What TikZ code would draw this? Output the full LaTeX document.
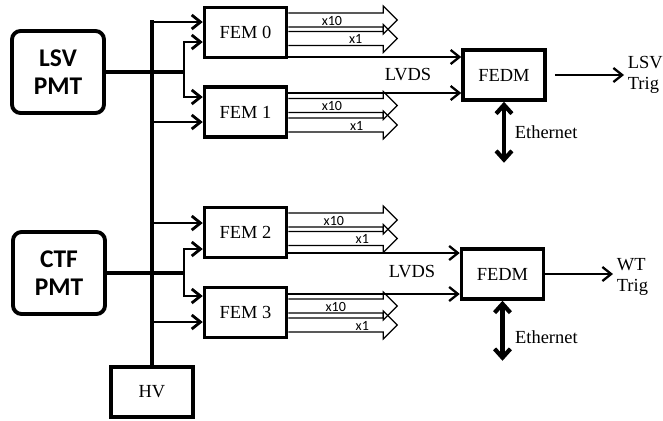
\documentclass[tikz,border=0pt]{standalone}
\usepackage{fontspec}
\setmainfont{Liberation Serif}
\newfontfamily\pmtfont{Carlito}
\usetikzlibrary{positioning, arrows.meta, calc}

% two gain outputs leave each FEM as wide open arrows
\newcommand{\gainarrow}[4]{%
  \draw[fat] ($(#1.east)+(0,#2)$) ++(0,-7) -- ++(95,0) -- ++(0,-7) -- ++(14,14)
    -- ++(-14,14) -- ++(0,-7) -- ++(-95,0) node[gain, pos=#4] {#3};
}

\begin{document}
\begin{tikzpicture}[
      x=0.02cm, y=-0.02cm,
      block/.style={rectangle, draw, line width=2pt, minimum width=1.64cm,
                    minimum height=1cm, align=center,
                    font=\fontsize{10.5}{12}\selectfont},
      pmt/.style={rectangle, draw, line width=2.2pt, rounded corners=0.17cm,
                  minimum width=1.84cm, minimum height=1.64cm, align=center,
                  font=\pmtfont\bfseries\fontsize{14.5}{16}\selectfont},
      txt/.style={align=left, inner sep=2pt, font=\fontsize{10.5}{12}\selectfont},
      gain/.style={anchor=base, inner sep=0pt, yshift=1pt,
                   font=\pmtfont\fontsize{8}{8}\selectfont},
      bus/.style={line width=2.3pt},
      arrow/.style={-{Straight Barb[length=5pt, width=8pt]}, line width=1.6pt},
      ether/.style={{Straight Barb[length=5pt, width=9pt]}-{Straight Barb[length=5pt, width=9pt]},
                    line width=2.4pt},
      fat/.style={line width=0.7pt, line join=miter},
    ]
    \useasboundingbox (0,0) rectangle (663,420);

    % sources
    \node[pmt] (lsv) at (58,72) {LSV\\PMT};
    \node[pmt] (ctf) at (59,273) {CTF\\PMT};
    \node[block] (hv) at (152,392) {HV};

    % front-end modules
    \node[block] (fem0) at (245.5,32.5) {FEM 0};
    \node[block] (fem1) at (245.5,112) {FEM 1};
    \node[block] (fem2) at (245.5,232.5) {FEM 2};
    \node[block] (fem3) at (245.5,312.5) {FEM 3};

    \node[block] (fedmA) at (504,75) {FEDM};
    \node[block] (fedmB) at (502.5,274) {FEDM};

    \node[txt] (lvdsA) at (408,75) {LVDS};
    \node[txt] (lvdsB) at (412,272) {LVDS};
    \node[txt, anchor=west] (trigA) at (624,75) {LSV\\Trig};
    \node[txt, anchor=west] (trigB) at (613,277) {WT\\Trig};

    % HV bus
    \draw[bus] (hv.north) -- ++(0,-345);
    \draw[arrow] (hv.north) |- ($(fem0.west)+(0,-10.5)$);
    \draw[arrow] (hv.north) |- ($(fem1.west)+(0,10)$);
    \draw[arrow] (hv.north) |- ($(fem2.west)+(0,-9.5)$);
    \draw[arrow] (hv.north) |- ($(fem3.west)+(0,9.5)$);

    % PMT signals split to two FEMs
    \draw[bus] (lsv.east) -- ++(78,0) coordinate (splitA);
    \draw[arrow] (splitA) |- ($(fem0.west)+(0,9.5)$);
    \draw[arrow] (splitA) |- ($(fem1.west)+(0,-15)$);
    \draw[bus] (ctf.east) -- ++(77,0) coordinate (splitB);
    \draw[arrow] (splitB) |- ($(fem2.west)+(0,16.5)$);
    \draw[arrow] (splitB) |- ($(fem3.west)+(0,-16.5)$);

    % gain outputs
    \gainarrow{fem0}{-12.5}{x10}{0.54}
    \gainarrow{fem0}{6}{x1}{0.29}
    \gainarrow{fem1}{-6.5}{x10}{0.54}
    \gainarrow{fem1}{13}{x1}{0.28}
    \gainarrow{fem2}{-12.5}{x10}{0.52}
    \gainarrow{fem2}{6}{x1}{0.22}
    \gainarrow{fem3}{-6.5}{x10}{0.50}
    \gainarrow{fem3}{12.5}{x1}{0.22}

    % LVDS links
    \coordinate (lvA0) at ($(fedmA.west)+(0,-18)$);
    \coordinate (lvA1) at ($(fedmA.west)+(0,18)$);
    \coordinate (lvB0) at ($(fedmB.west)+(0,-21)$);
    \coordinate (lvB1) at ($(fedmB.west)+(0,20)$);
    \draw[arrow, line width=1.3pt] (fem0.east |- lvA0) -- (lvA0);
    \draw[arrow, line width=1.3pt] (fem1.east |- lvA1) -- (lvA1);
    \draw[arrow, line width=1.3pt] (fem2.east |- lvB0) -- (lvB0);
    \draw[arrow, line width=1.3pt] (fem3.east |- lvB1) -- (lvB1);

    % trigger outputs
    \draw[arrow, line width=1.3pt, shorten <=0.16cm] (fedmA.east) -- (fedmA.east -| trigA.west);
    \draw[arrow, line width=1.3pt] (fedmB.east) -- (fedmB.east -| trigB.west);

    % ethernet
    \draw[ether] (fedmA.south) -- ++(0,61)
      node[txt, midway, right, xshift=3pt] (ethA) {Ethernet};
    \draw[ether] (fedmB.south) -- ++(0,60)
      node[txt, pos=0.6, right, xshift=4pt] (ethB) {Ethernet};
  \end{tikzpicture}
\end{document}
